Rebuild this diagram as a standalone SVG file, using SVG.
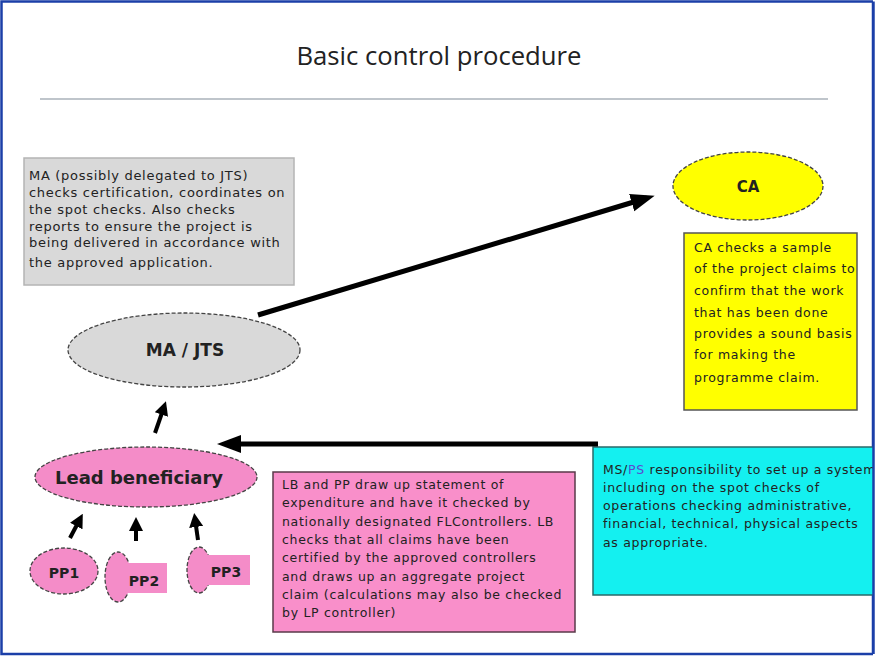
<svg xmlns="http://www.w3.org/2000/svg" width="875" height="656" viewBox="0 0 875 656">
<defs>
<style>
.t{font-family:"DejaVu Sans",Verdana,sans-serif;fill:#222}
.box{font-size:12.5px;letter-spacing:0.7px}
.gbox{font-size:13px;letter-spacing:0.7px}
.ell{stroke:#444;stroke-width:1.3;stroke-dasharray:4 2}
.conn line{stroke:#000;stroke-linecap:butt}
</style>
<marker id="bigHead" markerUnits="userSpaceOnUse" markerWidth="24" markerHeight="20" refX="16" refY="10" orient="auto">
<path d="M0,1 L24,10 L0,19 z" fill="#000"/>
</marker>
<marker id="smallHead" markerUnits="userSpaceOnUse" markerWidth="14" markerHeight="14" refX="8" refY="7" orient="auto">
<path d="M0,0 L14,7 L0,14 z" fill="#000"/>
</marker>
</defs>
<rect x="0" y="0" width="875" height="656" fill="#fff"/>
<rect x="1.5" y="1.5" width="871.5" height="652.5" fill="none" stroke="#1b3fa8" stroke-width="2.5"/>

<g id="title">
<text x="439" y="65" text-anchor="middle" font-family="'Open Sans','Liberation Sans',sans-serif" font-size="25" fill="#222" textLength="285" lengthAdjust="spacingAndGlyphs">Basic control procedure</text>
<line x1="40" y1="99" x2="828" y2="99" stroke="#aab2ba" stroke-width="1.5"/>
</g>

<g id="ma-note">
<rect x="24" y="158" width="270" height="127" fill="#d9d9d9" stroke="#b4b4b4" stroke-width="1.5"/>
<text class="t gbox" x="29" y="180">MA (possibly delegated to JTS)</text>
<text class="t gbox" x="29" y="197">checks certification, coordinates on</text>
<text class="t gbox" x="29" y="214">the spot checks. Also checks</text>
<text class="t gbox" x="29" y="231">reports to ensure the project is</text>
<text class="t gbox" x="29" y="247">being delivered in accordance with</text>
<text class="t gbox" x="29" y="267">the approved application.</text>
</g>

<g id="ma-jts">
<ellipse cx="184" cy="350" rx="116" ry="37" fill="#d9d9d9" class="ell"/>
<text class="t" x="185" y="356" text-anchor="middle" font-size="17px" font-weight="bold" fill="#333">MA / JTS</text>
</g>

<g id="ca">
<ellipse cx="748" cy="186" rx="75" ry="34" fill="#ffff00" class="ell"/>
<text class="t" x="748" y="192" text-anchor="middle" font-size="15px" font-weight="bold" fill="#333">CA</text>
</g>

<g id="ca-note">
<rect x="684" y="233" width="173" height="177" fill="#ffff00" stroke="#555" stroke-width="1.5"/>
<text class="t box" x="694" y="252">CA checks a sample</text>
<text class="t box" x="694" y="273">of the project claims to</text>
<text class="t box" x="694" y="295">confirm that the work</text>
<text class="t box" x="694" y="317">that has been done</text>
<text class="t box" x="694" y="338">provides a sound basis</text>
<text class="t box" x="694" y="359">for making the</text>
<text class="t box" x="694" y="382">programme claim.</text>
</g>

<g id="lead-beneficiary">
<ellipse cx="146" cy="477" rx="111" ry="30" fill="#f48cc8" class="ell"/>
<text class="t" x="139" y="484" text-anchor="middle" font-size="18px" font-weight="bold" fill="#3a1030">Lead beneficiary</text>
</g>

<g id="pp1">
<ellipse cx="64" cy="571" rx="34" ry="23" fill="#f48cc8" class="ell"/>
<text class="t" x="64" y="578" text-anchor="middle" font-size="14px" font-weight="bold" fill="#4a1040">PP1</text>
</g>

<g id="pp2">
<ellipse cx="118" cy="577" rx="13" ry="25" fill="#f48cc8" class="ell"/>
<rect x="120" y="563" width="47" height="30" fill="#f48cc8"/>
<text class="t" x="144" y="586" text-anchor="middle" font-size="14px" font-weight="bold" fill="#4a1040">PP2</text>
</g>

<g id="pp3">
<ellipse cx="199" cy="570" rx="12" ry="23" fill="#f48cc8" class="ell"/>
<rect x="203" y="555" width="47" height="30" fill="#f48cc8"/>
<text class="t" x="226" y="577" text-anchor="middle" font-size="14px" font-weight="bold" fill="#4a1040">PP3</text>
</g>

<g id="lb-note">
<rect x="273" y="472" width="302" height="160" fill="#f98fca" stroke="#5a3a4a" stroke-width="1.5"/>
<text class="t box" x="282" y="489">LB and PP draw up statement of</text>
<text class="t box" x="282" y="507">expenditure and have it checked  by</text>
<text class="t box" x="282" y="526">nationally designated FLControllers. LB</text>
<text class="t box" x="282" y="544">checks that all claims have been</text>
<text class="t box" x="282" y="562">certified by the approved controllers</text>
<text class="t box" x="282" y="581">and draws up  an aggregate project</text>
<text class="t box" x="282" y="599">claim (calculations may also be checked</text>
<text class="t box" x="282" y="617">by LP controller)</text>
</g>

<g id="ms-note">
<rect x="593" y="447" width="290" height="148" fill="#14f0f0" stroke="#2a6a6a" stroke-width="1.5"/>
<text class="t box" x="603" y="474">MS/<tspan fill="#5a4ad0">PS</tspan> responsibility to set up a system</text>
<text class="t box" x="603" y="492">including  on the spot checks of</text>
<text class="t box" x="603" y="510">operations checking administrative,</text>
<text class="t box" x="603" y="528">financial, technical,  physical aspects</text>
<text class="t box" x="603" y="547">as appropriate.</text>
</g>

<rect x="873" y="0" width="2" height="656" fill="#fff"/>
<line x1="873.5" y1="1.5" x2="873.5" y2="654" stroke="#1b3fa8" stroke-width="2.5"/>

<g class="conn" id="connectors">
<line x1="258" y1="315" x2="647" y2="198" stroke-width="5" marker-end="url(#bigHead)"/>
<line x1="598" y1="444" x2="225" y2="444" stroke-width="5" marker-end="url(#bigHead)"/>
<line x1="155" y1="433" x2="164" y2="407" stroke-width="4" marker-end="url(#smallHead)"/>
<line x1="70" y1="538" x2="80" y2="519" stroke-width="4" marker-end="url(#smallHead)"/>
<line x1="136" y1="541" x2="136" y2="523" stroke-width="4" marker-end="url(#smallHead)"/>
<line x1="198" y1="540" x2="195" y2="519" stroke-width="4" marker-end="url(#smallHead)"/>
</g>
</svg>
